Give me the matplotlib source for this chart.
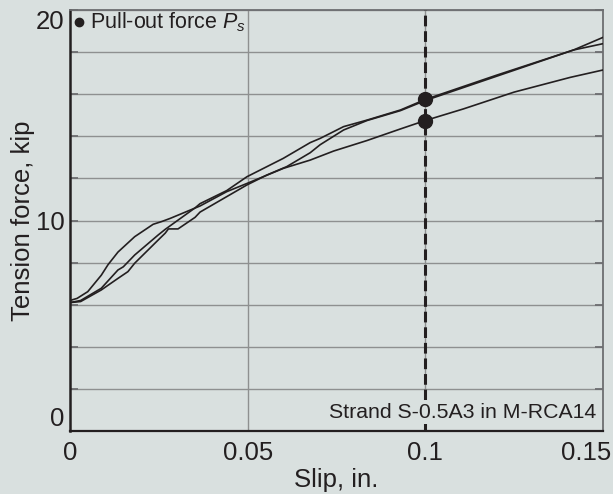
import matplotlib
matplotlib.use("Agg")
import matplotlib.pyplot as plt
import matplotlib.transforms as mtransforms

plt.rcParams['font.family'] = ['Liberation Sans', 'DejaVu Sans']
plt.rcParams['mathtext.fontset'] = 'custom'
plt.rcParams['mathtext.rm'] = 'Liberation Sans'
plt.rcParams['mathtext.it'] = 'Liberation Sans:italic'

# ---- data ----
slip_a = [0, 0, 0.002, 0.005, 0.0088, 0.0107, 0.0135, 0.0182, 0.0234, 0.0258, 0.0282,
          0.0366, 0.0441, 0.0498, 0.0601, 0.0676, 0.0742, 0.0836, 0.093, 0.1, 0.1107,
          0.125, 0.1408, 0.15]
force_a = [0, 6.2, 6.3, 6.62, 7.4, 7.9, 8.5, 9.23, 9.82, 9.95, 10.1,
           10.69, 11.37, 11.76, 12.48, 12.87, 13.3, 13.8, 14.35, 14.75, 15.3,
           16.1, 16.8, 17.15]

slip_b = [0, 0, 0.003, 0.0088, 0.0135, 0.015, 0.0182, 0.0248, 0.0268, 0.0352, 0.0366,
          0.0441, 0.0498, 0.06, 0.0676, 0.0704, 0.077, 0.0836, 0.093, 0.1, 0.12,
          0.1417, 0.15]
force_b = [0, 6.1, 6.2, 6.78, 7.65, 7.8, 8.36, 9.31, 9.58, 10.6, 10.8,
           11.42, 12.08, 12.95, 13.7, 13.9, 14.46, 14.77, 15.25, 15.75, 16.9,
           18.1, 18.7]

slip_c = [0, 0, 0.003, 0.0088, 0.0135, 0.0163, 0.0182, 0.0248, 0.0268, 0.0277, 0.0304,
          0.0352, 0.0366, 0.0498, 0.0554, 0.061, 0.0676, 0.0704, 0.077, 0.0836, 0.093,
          0.1, 0.12, 0.1417, 0.15]
force_c = [0, 6.1, 6.15, 6.7, 7.25, 7.57, 7.97, 9.07, 9.4, 9.6, 9.6,
           10.15, 10.4, 11.69, 12.16, 12.56, 13.22, 13.6, 14.3, 14.75, 15.22,
           15.7, 16.85, 18.1, 18.4]

pullout_slip = [0.1, 0.1]
pullout_force = [15.75, 14.75]

x_ticks = [0, 0.05, 0.1, 0.15]
x_tick_labels = ['0', '0.05', '0.1', '0.15']
y_ticks = [0, 10, 20]
y_tick_labels = ['0', '10', '20']
y_minor = [2, 4, 6, 8, 12, 14, 16, 18]

bg = '#d9e0df'
ink = '#231f20'
grid_c = '#8e9090'
spine_c = '#6d6e71'

fig = plt.figure(figsize=(6.13, 4.94), dpi=100, facecolor=bg)
ax = fig.add_axes([70/613, 1-431/494, 533/613, 421/494], facecolor=bg)

ax.set_xlim(0, 0.15)
ax.set_ylim(0, 20)

# grid
for yv in y_ticks + y_minor:
    ax.axhline(yv, color=grid_c, lw=1.0, zorder=1)
for xv in [0.05, 0.1]:
    ax.axvline(xv, color=grid_c, lw=1.0, zorder=1)

for xs, ys in [(slip_a, force_a), (slip_b, force_b), (slip_c, force_c)]:
    ax.plot(xs, ys, color=ink, lw=1.2, zorder=3)

ax.axvline(0.1, color=ink, lw=2.2, linestyle=(0, (3.5, 1.6)), zorder=4)
ax.plot(pullout_slip, pullout_force, 'o', color=ink, ms=10, zorder=5)

# ticks
ax.set_xticks(x_ticks)
ax.set_xticklabels(x_tick_labels)
ax.set_yticks(y_ticks)
ax.set_yticklabels(y_tick_labels)
ax.set_yticks(y_minor, minor=True)
ax.tick_params(axis='x', length=0, pad=7, labelsize=18.5, colors=ink)
ax.tick_params(axis='y', which='both', direction='in', length=6, width=1.3,
               color=spine_c, left=True, right=True, labelsize=18.5, labelcolor=ink, pad=4)
ax.tick_params(axis='x', which='both', bottom=False, top=False)

ylabels = ax.get_yticklabels()
ylabels[0].set_va('bottom')
ylabels[2].set_va('top')
xlabels = ax.get_xticklabels()
xlabels[-1].set_ha('right')
xlabels[-1].set_transform(xlabels[-1].get_transform() +
                          mtransforms.ScaledTranslation(8/100, 0, fig.dpi_scale_trans))

for s in ax.spines.values():
    s.set_color(spine_c)
    s.set_linewidth(1.3)
ax.spines['left'].set_color(ink)
ax.spines['left'].set_linewidth(1.8)
ax.spines['bottom'].set_color(ink)
ax.spines['bottom'].set_linewidth(1.6)

ax.set_xlabel('Slip, in.', fontsize=18.5, color=ink, labelpad=2)
ax.set_ylabel('Tension force, kip', fontsize=18.5, color=ink)
ax.yaxis.set_label_coords(-0.066, 0.5)

ax.plot([0.017], [0.9715], 'o', color=ink, ms=6, transform=ax.transAxes, clip_on=False)
ax.text(0.0375, 0.9715, 'Pull-out force $P_s$', transform=ax.transAxes,
        fontsize=15.5, color=ink, va='center', ha='left')
ax.text(0.988, 0.045, 'Strand S-0.5A3 in M-RCA14', transform=ax.transAxes,
        fontsize=15.3, color=ink, va='center', ha='right', zorder=6,
        bbox=dict(facecolor=bg, edgecolor='none', pad=1.5))

fig.savefig('out.png', dpi=100, facecolor=bg)
